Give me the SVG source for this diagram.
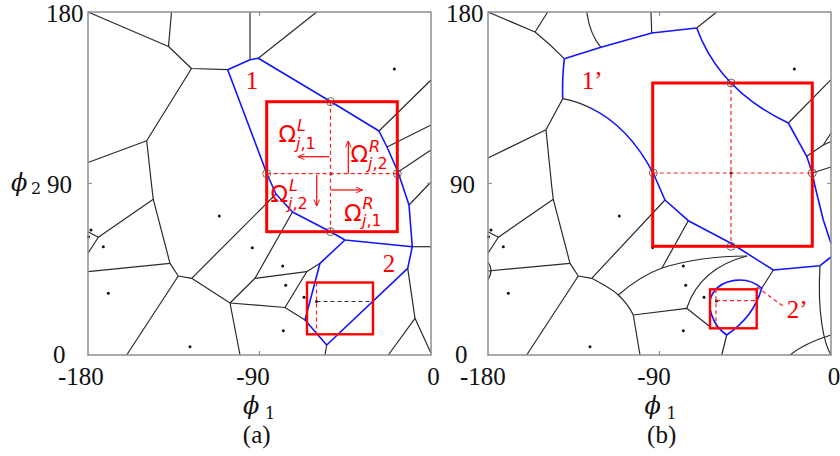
<svg xmlns="http://www.w3.org/2000/svg" width="840" height="456" viewBox="0 0 840 456">
<defs>
<style>
.frame{fill:none;stroke:#8f8f8f;stroke-width:1.5}
.tick{stroke:#8f8f8f;stroke-width:1.2}
.k{fill:none;stroke:#2a2a2a;stroke-width:1.2;stroke-linejoin:round}
.b{fill:none;stroke:#1414ff;stroke-width:1.6;stroke-linejoin:round}
.box{fill:none;stroke:#ff0000;stroke-width:3}
.sbox{fill:none;stroke:#ff0000;stroke-width:2.4}
.dash{fill:none;stroke:#ff2020;stroke-width:1.2;stroke-dasharray:4 3}
.kdash{fill:none;stroke:#333;stroke-width:1;stroke-dasharray:4 3}
.arr{fill:none;stroke:#ff0000;stroke-width:1.2;marker-end:url(#ah)}
.circ{fill:none;stroke:#555;stroke-width:0.9}
.dot{fill:#111}
.num{font-family:"Liberation Serif","Times New Roman",serif;font-size:25px;fill:#111}
.lab{font-family:"Liberation Serif","Times New Roman",serif;font-size:25px;fill:#ff0000}
.om{font-family:"DejaVu Sans","Noto Sans",sans-serif;font-size:23px;fill:#ff0000}
.sc{font-family:"DejaVu Sans","Noto Sans",sans-serif;font-size:16px;fill:#ff0000}
.it{font-style:italic}
.phi{font-family:"DejaVu Serif","Liberation Serif",serif;font-size:24px;font-style:italic;fill:#111}
.sub{font-family:"DejaVu Serif","Liberation Serif",serif;font-size:16px;fill:#111}
</style>
<marker id="ah" viewBox="0 0 10 10" refX="9" refY="5" markerWidth="8" markerHeight="8" orient="auto" markerUnits="userSpaceOnUse">
<path d="M1,1.5 L9,5 L1,8.5" fill="none" stroke="#ff0000" stroke-width="1.2"/>
</marker>
</defs>
<rect width="840" height="456" fill="#ffffff"/>

<!-- ================= PANEL A ================= -->
<g id="panel-a">
<g id="a-lines">
<path class="k" d="M88,12 L168.5,46.5 L191.5,68.5 L227.7,69.7"/>
<path class="k" d="M168.5,46.5 L171.5,12"/>
<path class="k" d="M191.5,68.5 L146.7,140.7 L88,162.5"/>
<path class="k" d="M146.7,140.7 L151.7,186.3 L153.3,199.3 L170,263.3 L178.3,276 L191.7,278.3 L230,303 L240,355"/>
<path class="k" d="M153.3,199.3 L98.3,237.3 L88,231.7"/>
<path class="k" d="M98.3,237.3 L88,253.3"/>
<path class="k" d="M88,271.7 L170,263.3"/>
<path class="k" d="M178.3,276 L126.7,355"/>
<path class="k" d="M191.7,278.3 L276,194"/>
<path class="k" d="M230,303 L255,278.3 L292.5,212"/>
<path class="k" d="M255,278.3 L306.7,271.7 L320,263.3"/>
<path class="k" d="M230,303 L285,307.5 L305,320"/>
<path class="k" d="M285,307.5 L306.7,271.7"/>
<path class="k" d="M326.7,345 L325,355"/>
<path class="k" d="M250,12 L250,59.7"/>
<path class="k" d="M258.3,58.3 L316.7,12"/>
<path class="k" d="M379,131 L431,80"/>
<path class="k" d="M387,147 L431,125"/>
<path class="k" d="M398,172 L431,150"/>
<path class="k" d="M409,205 L431,182"/>
<path class="k" d="M412.3,246.7 L431,246.7"/>
<path class="k" d="M407.7,268.3 L415,318.3 L431,353.3"/>
<path class="k" d="M415,318.3 L388.3,355"/>
<path class="b" d="M227.7,69.7 L250,59.7 L258.3,58.3 L331,101.7 L379,131 L387,147 L398,172 L409,205 L412.3,246.7 L407.7,268.3 L326.7,345 L305,320 L320,263.3 L345,240"/>
<path class="b" d="M227.7,69.7 L267,174 L276,194 L292.5,212 L331,232 L345,240 L412.3,246.7"/>
</g>
<g id="a-dots">
<circle class="dot" cx="394.3" cy="69" r="1.5"/>
<circle class="dot" cx="331" cy="173.7" r="1.5"/>
<circle class="dot" cx="219.3" cy="216" r="1.5"/>
<circle class="dot" cx="91" cy="230" r="1.5"/>
<circle class="dot" cx="88.5" cy="236.7" r="1.5"/>
<circle class="dot" cx="103.3" cy="246.7" r="1.5"/>
<circle class="dot" cx="108.3" cy="293.3" r="1.5"/>
<circle class="dot" cx="190" cy="346.7" r="1.5"/>
<circle class="dot" cx="252.3" cy="247.7" r="1.5"/>
<circle class="dot" cx="282.7" cy="266" r="1.5"/>
<circle class="dot" cx="285.7" cy="285.3" r="1.5"/>
<circle class="dot" cx="304" cy="297.3" r="1.5"/>
<circle class="dot" cx="316.5" cy="301.5" r="1.5"/>
<circle class="dot" cx="283.3" cy="330.7" r="1.5"/>
</g>
<g id="a-bigbox">
<line class="dash" x1="330.5" y1="101.7" x2="330.5" y2="231.7"/>
<line class="dash" x1="266.7" y1="173.7" x2="397.3" y2="173.7"/>
<rect class="box" x="266.7" y="101.7" width="130.6" height="130"/>
<circle class="circ" cx="330.5" cy="101.7" r="4"/>
<circle class="circ" cx="266.7" cy="173.7" r="4"/>
<circle class="circ" cx="397.3" cy="173.7" r="4"/>
<circle class="circ" cx="330.5" cy="231.7" r="4"/>
<line class="arr" x1="329.3" y1="156.7" x2="298" y2="156.7"/>
<line class="arr" x1="348.3" y1="173.7" x2="348.3" y2="141"/>
<line class="arr" x1="316.7" y1="175" x2="316.7" y2="206"/>
<line class="arr" x1="331" y1="190" x2="362.5" y2="190"/>
<text class="om" x="278.5" y="142">Ω</text>
<text class="sc it" x="297" y="131">L</text>
<text class="sc" x="296" y="149"><tspan class="it">j</tspan>,1</text>
<text class="om" x="350.5" y="162">Ω</text>
<text class="sc it" x="369" y="152">R</text>
<text class="sc" x="368" y="169"><tspan class="it">j</tspan>,2</text>
<text class="om" x="270.5" y="202">Ω</text>
<text class="sc it" x="289" y="190.5">L</text>
<text class="sc" x="288" y="209"><tspan class="it">j</tspan>,2</text>
<text class="om" x="344" y="220.5">Ω</text>
<text class="sc it" x="362.5" y="209">R</text>
<text class="sc" x="362" y="225.5"><tspan class="it">j</tspan>,1</text>
</g>
<g id="a-smallbox">
<rect class="sbox" x="307" y="282.5" width="66" height="51.8"/>
<line class="dash" x1="316.5" y1="282.5" x2="316.5" y2="334.3"/>
<line class="kdash" x1="316.5" y1="301.5" x2="373" y2="301.5"/>
</g>
<g id="a-labels">
<text class="lab" x="252" y="88.7" text-anchor="middle">1</text>
<text class="lab" x="389" y="271.7" text-anchor="middle">2</text>
</g>
<g id="a-axes">
<rect class="frame" x="88" y="12" width="343" height="343"/>
<line class="tick" x1="259.5" y1="12" x2="259.5" y2="16"/>
<line class="tick" x1="259.5" y1="355" x2="259.5" y2="351"/>
<line class="tick" x1="88" y1="183.5" x2="92" y2="183.5"/>
<line class="tick" x1="431" y1="183.5" x2="427" y2="183.5"/>
<text class="num" x="83.5" y="21.7" text-anchor="end">180</text>
<text class="num" x="72" y="193.3" text-anchor="end">90</text>
<text class="phi" x="11" y="191">ϕ</text>
<text class="sub" x="31" y="194">2</text>
<text class="num" x="53" y="362.5">0</text>
<text class="num" x="58" y="385">-180</text>
<text class="num" x="253" y="385" text-anchor="middle">-90</text>
<text class="num" x="433.5" y="385" text-anchor="middle">0</text>
<text class="phi" x="243" y="414">ϕ</text>
<text class="sub" x="265" y="419">1</text>
<text class="num" x="256.7" y="442.5" text-anchor="middle">(a)</text>
</g>
</g>

<!-- ================= PANEL B ================= -->
<g id="panel-b">
<g id="b-lines">
<path class="k" d="M488,12 L535,32 Q550,44 564.3,58.7"/>
<path class="k" d="M535,32 L547.7,12"/>
<path class="k" d="M586.7,12 Q590,35 601,47.3"/>
<path class="k" d="M651,12 L651.7,33"/>
<path class="k" d="M696.7,28 L716.7,12"/>
<path class="k" d="M562.7,98.7 L546,129.7 L488,158"/>
<path class="k" d="M546,129.7 L551.7,186.3 L553.3,199.3 L570,263.3 L578.3,276 L591.7,278.3 L665,200"/>
<path class="k" d="M562.7,98.7 Q577,101.5 589.8,107.6"/>
<path class="k" d="M553.3,199.3 L498.3,237.3 L488,231.7"/>
<path class="k" d="M498.3,237.3 L488,253.3"/>
<path class="k" d="M488,262 Q494,270 488,280"/>
<path class="k" d="M488,271 L570,263.3"/>
<path class="k" d="M578.3,276 L526.7,355"/>
<path class="k" d="M591.7,278.3 Q612,289 618.3,295 Q628,304 633.3,315 L640,355"/>
<path class="k" d="M618.3,295 Q640,276 662,268 Q700,256 747,256"/>
<path class="k" d="M688.3,220.7 L662,268"/>
<path class="k" d="M633.3,315 L686.7,308.3 L710,326.7"/>
<path class="k" d="M686.7,308.3 Q700,268 747,256"/>
<path class="k" d="M726.7,335 L721.7,355"/>
<path class="k" d="M761.7,288.3 L773.3,270"/>
<path class="k" d="M820,265.7 Q818,300 822,325 Q825,345 831,355"/>
<path class="k" d="M790,355 Q805,343 831,335"/>
<path class="k" d="M788.3,123 L831,79.7"/>
<path class="k" d="M806.7,156.3 L823.3,145 L831,133"/>
<path class="k" d="M823.3,145 L831,141.5"/>
<path class="k" d="M812.3,173 L831,167"/>
<path class="b" d="M564.3,58.7 L601,47.3 L651.7,33 L696.7,28"/>
<path class="b" d="M564.3,58.7 Q562,80 562.7,98.7"/>
<path class="b" d="M589.8,107.6 Q628.3,125.8 653.3,173.3 L665,200 L688.3,220.7 L731,243.3 L773.3,270 L820,265.7 L831,257"/>
<path class="b" d="M696.7,28 Q719.5,90.5 788.3,123 L806.7,156.3 L812.3,173 L815,186.3 L823.3,220 L831,243.3"/>
<path class="b" d="M726.7,335 C713,326 705,305 713,293 C721,280 746,274 761.7,288.3 C757,305 746,322 726.7,335 Z"/>
</g>
<g id="b-dots">
<circle class="dot" cx="794.3" cy="69" r="1.5"/>
<circle class="dot" cx="731" cy="173" r="1.5"/>
<circle class="dot" cx="619.3" cy="216" r="1.5"/>
<circle class="dot" cx="491" cy="230" r="1.5"/>
<circle class="dot" cx="488.5" cy="236.7" r="1.5"/>
<circle class="dot" cx="503.3" cy="246.7" r="1.5"/>
<circle class="dot" cx="508.3" cy="293.3" r="1.5"/>
<circle class="dot" cx="590" cy="346.7" r="1.5"/>
<circle class="dot" cx="652.7" cy="247.5" r="1.5"/>
<circle class="dot" cx="683.3" cy="266" r="1.5"/>
<circle class="dot" cx="685.7" cy="285.3" r="1.5"/>
<circle class="dot" cx="704" cy="297.3" r="1.5"/>
<circle class="dot" cx="716.5" cy="301" r="1.5"/>
<circle class="dot" cx="683.3" cy="330.7" r="1.5"/>
</g>
<g id="b-bigbox">
<line class="dash" x1="731" y1="83" x2="731" y2="246.3"/>
<line class="dash" x1="652.7" y1="173" x2="812.3" y2="173"/>
<rect class="box" x="652.7" y="83" width="159.6" height="163.3"/>
<circle class="circ" cx="731" cy="83" r="4"/>
<circle class="circ" cx="653.3" cy="173" r="4"/>
<circle class="circ" cx="812.3" cy="173" r="4"/>
<circle class="circ" cx="731" cy="246.3" r="4"/>
</g>
<g id="b-smallbox">
<rect class="sbox" x="710" y="289.3" width="46.7" height="39"/>
<line class="dash" x1="716" y1="289.3" x2="716" y2="328.3"/>
<line class="dash" x1="716" y1="300.7" x2="756.7" y2="300.7"/>
<line class="dash" x1="756.7" y1="287" x2="783" y2="306"/>
</g>
<g id="b-labels">
<text class="lab" x="581.7" y="88.7">1’</text>
<text class="lab" x="786.7" y="318.3">2’</text>
</g>
<g id="b-axes">
<rect class="frame" x="488" y="12" width="343" height="343"/>
<line class="tick" x1="659.5" y1="12" x2="659.5" y2="16"/>
<line class="tick" x1="659.5" y1="355" x2="659.5" y2="351"/>
<line class="tick" x1="488" y1="183.5" x2="492" y2="183.5"/>
<line class="tick" x1="831" y1="183.5" x2="827" y2="183.5"/>
<text class="num" x="483.5" y="21.7" text-anchor="end">180</text>
<text class="num" x="475" y="193.3" text-anchor="end">90</text>
<text class="num" x="455" y="362.5">0</text>
<text class="num" x="460" y="385">-180</text>
<text class="num" x="654" y="385" text-anchor="middle">-90</text>
<text class="num" x="834" y="385" text-anchor="middle">0</text>
<text class="phi" x="644.5" y="414">ϕ</text>
<text class="sub" x="666.5" y="419">1</text>
<text class="num" x="661.7" y="442.5" text-anchor="middle">(b)</text>
</g>
</g>
</svg>
